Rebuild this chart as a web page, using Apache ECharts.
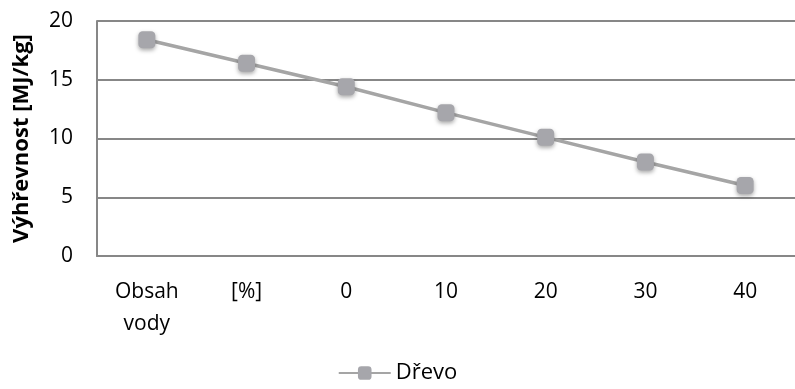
<!DOCTYPE html>
<html><head><meta charset="utf-8">
<script src="https://cdn.jsdelivr.net/npm/echarts@6/dist/echarts.min.js"></script>
<style>html,body{margin:0;padding:0;background:#fff}#c{width:795px;height:389px}</style>
</head><body><div id="c"></div>
<script>
const categories = ['Obsah\nvody', '[%]', '0', '10', '20', '30', '40'];
const drevo = [18.4, 16.4, 14.4, 12.2, 10.1, 8.0, 6.0];
const yTicks = [0, 5, 10, 15, 20];
const seriesName = 'Dřevo';
const yTitle = 'Výhřevnost [MJ/kg]';

const font = 'Open Sans, Liberation Sans, sans-serif';
const chart = echarts.init(document.getElementById('c'));
chart.setOption({
  animation: false,
  grid: { left: 97, top: 21, width: 702, height: 235, containLabel: false },
  xAxis: {
    type: 'category', data: categories, boundaryGap: true,
    axisLine: { lineStyle: { color: '#878787', width: 2 } },
    axisTick: { show: false },
    axisLabel: { color: '#000', fontSize: 21, fontFamily: font, margin: 20, lineHeight: 32 }
  },
  yAxis: {
    type: 'value', min: yTicks[0], max: yTicks[yTicks.length - 1], interval: 5,
    name: yTitle, nameLocation: 'middle', nameGap: 64,
    nameTextStyle: { color: '#000', fontSize: 22, fontWeight: 'bold', fontFamily: font },
    axisLine: { show: true, lineStyle: { color: '#878787', width: 2 } },
    axisTick: { show: false },
    axisLabel: { color: '#000', fontSize: 21, fontFamily: font, margin: 24 },
    splitLine: { lineStyle: { color: '#878787', width: 2 } }
  },
  legend: {
    bottom: 0, left: 'center', itemWidth: 52, itemHeight: 17, itemGap: 10,
    textStyle: { color: '#000', fontSize: 22, fontFamily: font },
    data: [{ name: seriesName }]
  },
  series: [{
    name: seriesName, type: 'line', data: drevo,
    symbol: 'roundRect', symbolSize: 17,
    lineStyle: { color: '#a5a5a5', width: 3.5 },
    itemStyle: { color: '#a6a6ab', shadowColor: 'rgba(0,0,0,0.35)', shadowBlur: 4, shadowOffsetY: 2 }
  }]
});
</script></body></html>
